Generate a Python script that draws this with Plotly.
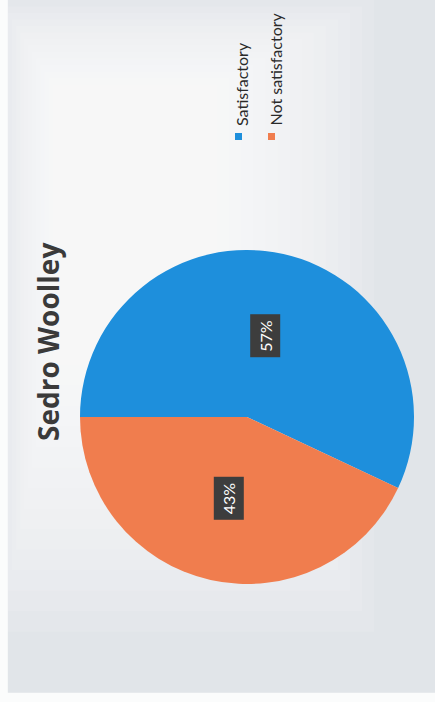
import math
import plotly.graph_objects as go

# Survey result for Sedro Woolley
title_text = "Sedro Woolley"
categories = ["Satisfactory", "Not satisfactory"]
values = [57, 43]
colors = ["#1e8fdc", "#f07d4e"]

W, H = 435, 702

# pie placement in pixels (centre and radius), converted to paper domain
cx_px, cy_px, r_px = 247, 417, 167
dom_x = [(cx_px - r_px) / W, (cx_px + r_px) / W]
dom_y = [(H - cy_px - r_px) / H, (H - cy_px + r_px) / H]

fig = go.Figure()
fig.add_trace(go.Pie(
    labels=categories,
    values=values,
    marker=dict(colors=colors, line=dict(width=0)),
    sort=False,
    direction="clockwise",
    rotation=-90,
    textinfo="none",
    hoverinfo="label+percent",
    showlegend=False,
    domain=dict(x=dom_x, y=dom_y),
))

annotations = []
shapes = []

# paper tone: grey edges fading to a lighter middle
n_steps = 14
for i in range(n_steps):
    t = i / (n_steps - 1)
    shapes.append(dict(
        type="rect", xref="paper", yref="paper",
        x0=0.0 + 0.12 * t, x1=0.86 - 0.36 * t,
        y0=0.10 + 0.38 * t, y1=1.0 - 0.12 * t,
        fillcolor="#fbfcfc", opacity=0.11, line=dict(width=0), layer="below"))
shapes.append(dict(type="rect", xref="paper", yref="paper", x0=0, x1=0.018, y0=0, y1=1,
                   fillcolor="#fbfcfc", line=dict(width=0), layer="below"))
shapes.append(dict(type="rect", xref="paper", yref="paper", x0=0, x1=1, y0=0, y1=0.013,
                   fillcolor="#fbfcfc", line=dict(width=0), layer="below"))

# percentage labels placed at the middle of each slice, halfway out
total = sum(values)
start = -90.0
for v in values:
    span = 360.0 * v / total
    mid = math.radians(start + span / 2)
    lx = (cx_px + 0.5 * r_px * math.sin(mid)) / W
    ly = (H - cy_px + 0.5 * r_px * math.cos(mid)) / H
    annotations.append(dict(
        x=lx, y=ly, xref="paper", yref="paper", xanchor="center", yanchor="middle",
        text=f"{round(100 * v / total)}%", showarrow=False, textangle=-90,
        font=dict(family="Lato", size=16, color="#ffffff"),
        bgcolor="#3d3d3d", borderpad=5,
    ))
    start += span

# title, reading upwards
annotations.append(dict(
    x=48 / W, y=(H - 342) / H, xref="paper", yref="paper",
    xanchor="center", yanchor="middle",
    text=f"<b>{title_text}</b>", showarrow=False, textangle=-90,
    font=dict(family="Open Sans", size=28, color="#3a3a3a"),
))

# legend entries, rotated like the title
legend_x = [239, 272]
for name, col, lx in zip(categories, colors, legend_x):
    shapes.append(dict(type="rect", xref="paper", yref="paper",
                       x0=(lx - 4) / W, x1=(lx + 3) / W,
                       y0=(H - 140) / H, y1=(H - 133) / H,
                       fillcolor=col, line=dict(width=0)))
    annotations.append(dict(
        x=(lx + 3) / W, y=(H - 128) / H, xref="paper", yref="paper",
        xanchor="center", yanchor="bottom",
        text=name, showarrow=False, textangle=-90,
        font=dict(family="Lato", size=16, color="#2a2a2a"),
    ))

fig.update_layout(
    width=W, height=H,
    margin=dict(l=0, r=0, t=0, b=0),
    paper_bgcolor="#e1e5e9",
    plot_bgcolor="rgba(0,0,0,0)",
    annotations=annotations,
    shapes=shapes,
)

fig.write_html("out.html")
